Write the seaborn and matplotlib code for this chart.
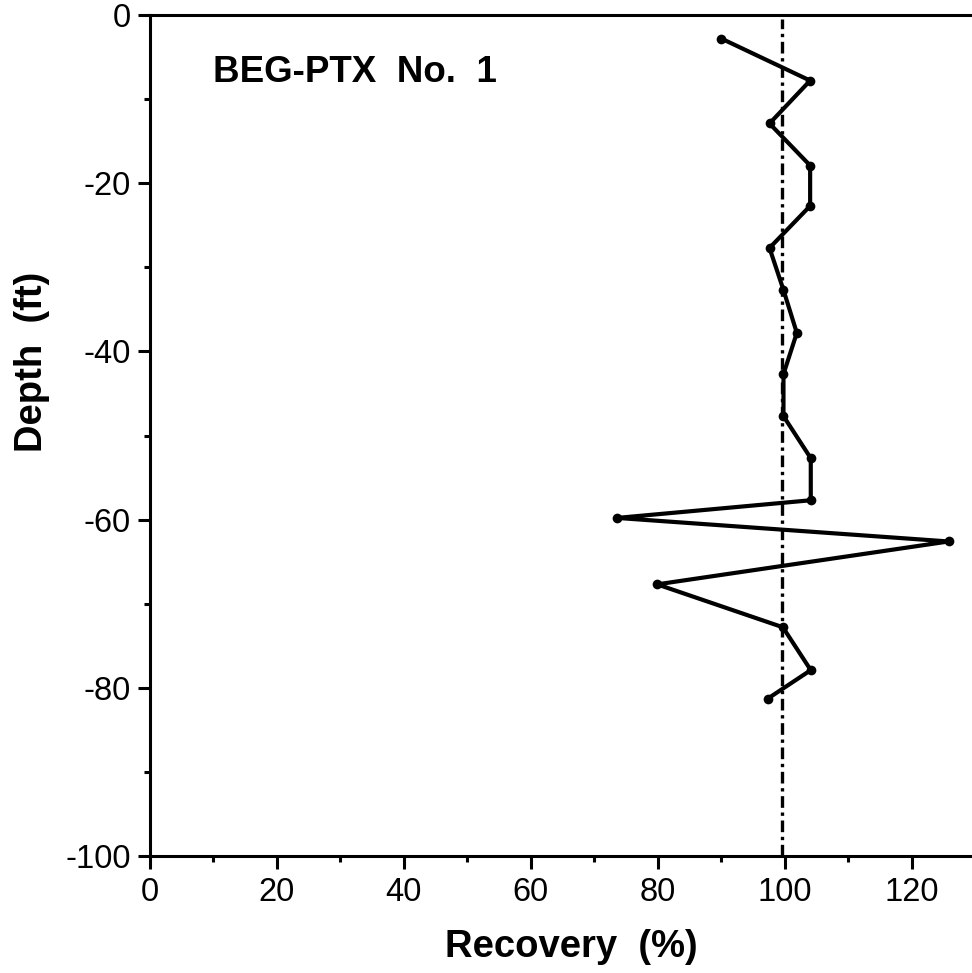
import matplotlib
matplotlib.use("Agg")
import matplotlib.pyplot as plt
import pandas as pd
import seaborn as sns

# Core recovery by depth
recovery = [90.0, 104.0, 97.6, 104.0, 104.0, 97.6, 99.8, 101.9, 99.8, 99.8,
            104.1, 104.1, 73.6, 125.8, 79.9, 99.7, 104.1, 97.3]
depth = [-2.8, -7.8, -12.9, -17.9, -22.7, -27.7, -32.7, -37.8, -42.7, -47.7,
         -52.7, -57.7, -59.8, -62.6, -67.7, -72.8, -77.9, -81.3]
reference_recovery = 99.6

x_ticks = [0, 20, 40, 60, 80, 100, 120]
y_ticks = [0, -20, -40, -60, -80, -100]
well_name = "BEG-PTX  No.  1"

df = pd.DataFrame({"recovery": recovery, "depth": depth})

sns.set_theme(style="ticks")
plt.rcParams["font.family"] = ["Liberation Sans", "DejaVu Sans"]
plt.rcParams["text.color"] = "black"

fig = plt.figure(figsize=(9.72, 9.73), dpi=100)
ax = fig.add_axes([150 / 972, 1 - 856 / 973, 822 / 972, 841 / 973])

sns.lineplot(
    data=df, x="recovery", y="depth", ax=ax,
    sort=False, estimator=None,
    color="black", linewidth=3.0,
    marker="o", markersize=7, markeredgewidth=0,
)
ax.axvline(reference_recovery, color="black", linewidth=2.4,
           linestyle=(0, (3.5, 1.4, 1.0, 1.4)), ymax=0.995)

ax.set_xlim(0, 129.5)
ax.set_ylim(-100, 0)
ax.set_xticks(x_ticks)
ax.set_yticks(y_ticks)
ax.set_xticks([10, 30, 50, 70, 90, 110], minor=True)
ax.set_yticks([-10, -30, -50, -70, -90], minor=True)
ax.set_xticklabels([str(t) for t in x_ticks])
ax.set_yticklabels([str(t) for t in y_ticks])

ax.tick_params(which="major", direction="out", length=9, width=2.2,
               labelsize=23.5, colors="black", labelcolor="black", pad=5)
ax.tick_params(axis="x", which="major", pad=6)
ax.tick_params(which="minor", direction="out", length=4.5, width=2.2, colors="black")

for side in ["left", "top", "bottom"]:
    ax.spines[side].set_linewidth(2.2)
    ax.spines[side].set_color("black")
ax.spines["right"].set_visible(False)

ax.set_xlabel("Recovery  (%)", fontsize=27.5, fontweight="bold", va="baseline",
              color="black")
ax.xaxis.set_label_coords(0.512, (856 - 957) / 841)
ax.set_ylabel("Depth  (ft)", fontsize=27.5, fontweight="bold", color="black")
ax.yaxis.set_label_coords((50 - 150) / 822, (856 - 362) / 841)

ax.text((213 - 150) / 822, (856 - 82) / 841, well_name, transform=ax.transAxes,
        fontsize=26.5, fontweight="bold", va="baseline", ha="left", color="black")

fig.savefig("out.png", dpi=100, facecolor="white")
